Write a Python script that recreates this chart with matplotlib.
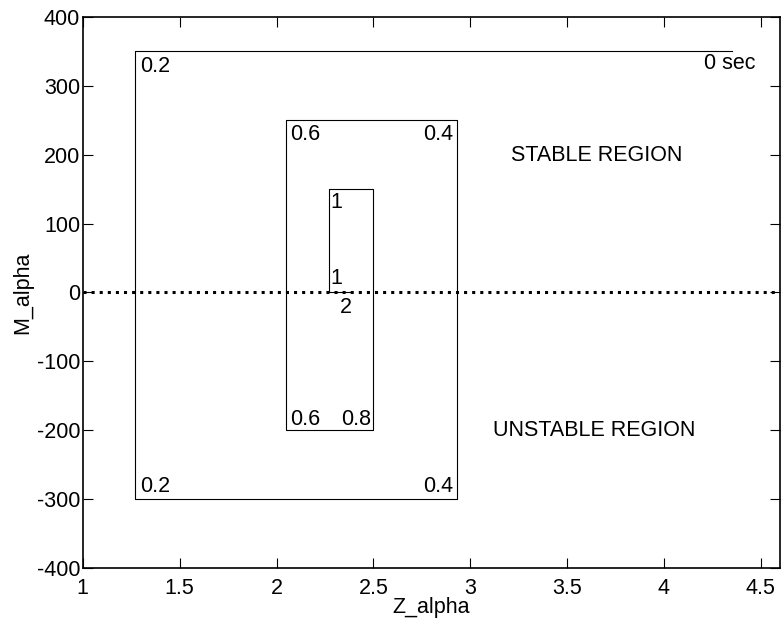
import matplotlib
matplotlib.use("Agg")
import matplotlib.pyplot as plt

plt.rcParams['font.family'] = ['Liberation Sans', 'DejaVu Sans']
plt.rcParams['axes.unicode_minus'] = False

# trajectory of (Z_alpha, M_alpha) over time
z_alpha = [4.35, 1.27, 1.27, 2.93, 2.93, 2.05, 2.05, 2.50, 2.50, 2.27, 2.27, 2.39]
m_alpha = [350, 350, -300, -300, 250, 250, -200, -200, 150, 150, 0, 0]

# time labels (text, x, y, alignment)
time_labels = [
    ("0 sec", 4.47, 333, "right"),
    ("0.2", 1.295, 328, "left"),
    ("0.2", 1.295, -282, "left"),
    ("0.4", 2.91, -282, "right"),
    ("0.4", 2.91, 230, "right"),
    ("0.6", 2.07, 230, "left"),
    ("0.6", 2.07, -185, "left"),
    ("0.8", 2.49, -185, "right"),
    ("1", 2.28, 130, "left"),
    ("1", 2.28, 20, "left"),
    ("2", 2.36, -22, "center"),
]
region_labels = [("STABLE REGION", 3.655, 199), ("UNSTABLE REGION", 3.64, -201)]

fs = 15.5

fig = plt.figure(figsize=(7.81, 6.27), dpi=100)
ax = fig.add_axes([0.106, 0.094, 0.893, 0.879])

ax.plot(z_alpha, m_alpha, color='black', linewidth=0.8)
ax.axhline(0, color='black', linestyle=':', linewidth=2.2)

for txt, x, y, ha in time_labels:
    ax.text(x, y, txt, ha=ha, va='center', fontsize=fs)
for txt, x, y in region_labels:
    ax.text(x, y, txt, ha='center', va='center', fontsize=fs)

ax.set_xlim(1, 4.6)
ax.set_ylim(-400, 400)
ax.set_xticks([1, 1.5, 2, 2.5, 3, 3.5, 4, 4.5])
ax.set_xticklabels(['1', '1.5', '2', '2.5', '3', '3.5', '4', '4.5'])
ax.set_yticks(range(-400, 401, 100))
ax.tick_params(direction='in', top=True, right=True, labelsize=fs, length=7, width=0.8)
ax.tick_params(axis='x', pad=7)
ax.tick_params(axis='y', pad=2)
for s in ax.spines.values():
    s.set_linewidth(1.2)
ax.set_xlabel('Z_alpha', fontsize=fs, labelpad=-1)
ax.set_ylabel('M_alpha', fontsize=fs, labelpad=2)

fig.savefig('out.png', dpi=100)
